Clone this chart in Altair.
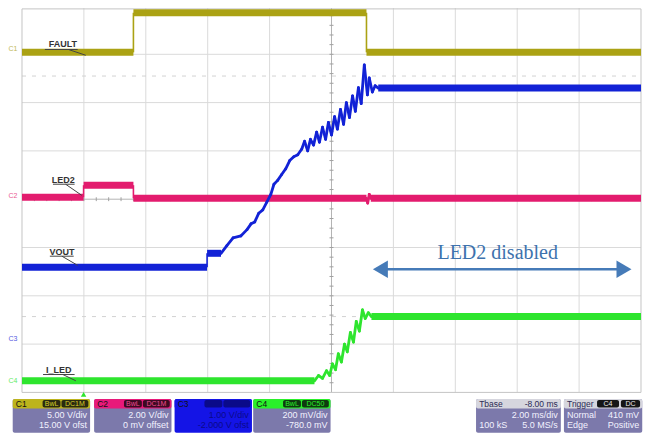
import altair as alt
import pandas as pd

# ---------------- data: time in ms across the screen (2 ms/div), level in screen divisions ----------
FAULT_T = [0.0, 3.60, 3.60, 11.13, 11.13, 20.0]
FAULT_V = [7.04, 7.04, 7.86, 7.86, 7.04, 7.04]

LED2_T = [0.0, 1.99, 1.99, 3.60, 3.60, 11.13, 11.17, 11.22, 11.27, 20.0]
LED2_V = [4.04, 4.04, 4.29, 4.29, 4.02, 4.02, 3.92, 4.10, 4.02, 4.02]

VOUT_T = [0.0, 5.98, 5.98, 6.43, 6.62, 6.82, 7.07, 7.27, 7.40, 7.52, 7.65, 7.78, 7.91,
          8.04, 8.14, 8.26, 8.39, 8.52, 8.65, 8.78, 8.91, 9.04, 9.13, 9.23, 9.32, 9.42,
          9.52, 9.61, 9.71, 9.81, 9.90, 10.00, 10.10, 10.19, 10.29, 10.39, 10.48, 10.58,
          10.68, 10.77, 10.87, 10.96, 11.06, 11.16, 11.22, 11.32, 11.41, 11.51, 20.0]
VOUT_V = [2.59, 2.59, 2.88, 2.88, 3.04, 3.20, 3.24, 3.37, 3.49, 3.53, 3.71, 3.78, 3.94,
          4.10, 4.31, 4.39, 4.51, 4.63, 4.80, 4.88, 4.92, 5.04, 5.20, 5.00, 5.24, 5.12,
          5.39, 5.18, 5.49, 5.24, 5.59, 5.33, 5.71, 5.45, 5.86, 5.55, 6.00, 5.69,
          6.14, 5.82, 6.31, 5.98, 6.78, 6.16, 6.51, 6.22, 6.35, 6.30, 6.30]

ILED_T = [0.0, 9.45, 9.58, 9.71, 9.84, 9.94, 10.03, 10.13, 10.22, 10.32, 10.42, 10.51,
          10.61, 10.71, 10.80, 10.90, 11.00, 11.09, 11.19, 11.29, 20.0]
ILED_V = [0.24, 0.24, 0.35, 0.29, 0.45, 0.35, 0.59, 0.47, 0.80, 0.63, 1.00, 0.84,
          1.24, 1.04, 1.47, 1.27, 1.71, 1.53, 1.65, 1.57, 1.57]

TRACE_NAMES = ["FAULT", "LED2", "VOUT", "I_LED"]
TRACE_T = [FAULT_T, LED2_T, VOUT_T, ILED_T]
TRACE_V = [FAULT_V, LED2_V, VOUT_V, ILED_V]
TRACE_COLORS = ["#aba214", "#e31c6e", "#1222d6", "#2ee52e"]

LABEL_T = [1.32, 1.33, 1.29, 1.19]
LABEL_V = [7.22, 4.39, 2.90, 0.47]
MARKERS = ["C1", "C2", "C3", "C4"]
MARKER_V = [7.12, 4.06, 1.10, 0.24]
REF_LEVELS = [6.55, 1.57]
GRID_T = [2, 4, 6, 8, 12, 14, 16, 18]
GRID_V = [1, 2, 3, 5, 6, 7]

C_PANELS = [
    dict(name="C1", badges=("BwL", "DC1M"), l2="5.00 V/div", l3="15.00 V ofst"),
    dict(name="C2", badges=("BwL", "DC1M"), l2="2.00 V/div", l3="0 mV offset"),
    dict(name="C3", badges=("BwL", "DC1M"), l2="1.00 V/div", l3="-2.000 V ofst"),
    dict(name="C4", badges=("BwL", "DC50"), l2="200 mV/div", l3="-780.0 mV"),
]
TBASE = dict(h=("Tbase", "-8.00 ms"), l2=("", "2.00 ms/div"), l3=("100 kS", "5.0 MS/s"))
TRIG = dict(h="Trigger", badges=("C4", "DC"), l2=("Normal", "410 mV"), l3=("Edge", "Positive"))

# ---------------- layout / style ---------------------------------------------------------------------
W, H = 636, 425
XS = alt.Scale(domain=[-0.4523, 20.097], nice=False, zero=False)
YS = alt.Scale(domain=[-0.8406, 7.9586], nice=False, zero=False)
FONT = "Liberation Sans"
WIDTHS = {"level": 7, "edge": 1.6, "ripple": 2.8}
PANEL_BG = "#7c79ab"
C_COLORS = {"C1": ("#bdb41c", "#2a2a10", "#d8cf2a"),
            "C2": ("#e8197a", "#3c0a22", "#f04a90"),
            "C3": ("#1414e6", "#0a0a8a", "#0a0a8a"),
            "C4": ("#2af02a", "#0f3a0f", "#2af02a")}
C_X0 = [-0.30, 2.33, 4.93, 7.47]
C_W = 2.50
TB_X = (14.67, 17.41)
TR_X = (17.51, 20.04)
P_TOP, P_HDR, P_BOT = -0.137, -0.333, -0.836
B_TOP, B_BOT = -0.157, -0.312
R1, R2, R3 = -0.236, -0.468, -0.685
PAD = 0.1


def X(f):
    return alt.X(f, type="quantitative", scale=XS, axis=None)


def Y(f):
    return alt.Y(f, type="quantitative", scale=YS, axis=None)


def seg_rules(df, **kw):
    return alt.Chart(pd.DataFrame(df)).mark_rule(**kw).encode(
        x=X("t"), x2="t2", y=Y("v"), y2="v2")


# ---------------- trace segments ---------------------------------------------------------------------
rows = []
for name, ts, vs, col in zip(TRACE_NAMES, TRACE_T, TRACE_V, TRACE_COLORS):
    for i in range(len(ts) - 1):
        if ts[i] == ts[i + 1]:
            kind = "edge"
        elif vs[i] == vs[i + 1]:
            kind = "level"
        else:
            kind = "ripple"
        rows.append(dict(trace=name, t=ts[i], t2=ts[i + 1], v=vs[i], v2=vs[i + 1],
                         color=col, kind=kind, w=WIDTHS[kind]))
seg = pd.DataFrame(rows)

flat = alt.Chart(seg[seg.kind != "ripple"]).mark_rule(strokeCap="butt").encode(
    x=X("t"), x2="t2", y=Y("v"), y2="v2",
    color=alt.Color("color:N", scale=None), strokeWidth=alt.StrokeWidth("w:Q", scale=None))
wavy = alt.Chart(seg[seg.kind == "ripple"]).mark_rule(strokeCap="round").encode(
    x=X("t"), x2="t2", y=Y("v"), y2="v2",
    color=alt.Color("color:N", scale=None), strokeWidth=alt.StrokeWidth("w:Q", scale=None))

# ---------------- graticule --------------------------------------------------------------------------
grid_x = seg_rules({"t": GRID_T, "t2": GRID_T, "v": [0] * len(GRID_T), "v2": [8] * len(GRID_T)},
                   color="#dadada", strokeWidth=1)
grid_y = seg_rules({"t": [0] * len(GRID_V), "t2": [20] * len(GRID_V), "v": GRID_V, "v2": GRID_V},
                   color="#dadada", strokeWidth=1)
border = seg_rules({"t": [0, 20, 0, 0], "t2": [20, 20, 20, 0], "v": [0, 0, 7.94, 0], "v2": [0, 7.94, 7.94, 7.94]},
                   color="#c4c4c4", strokeWidth=1)
center_l = seg_rules({"t": [10, 0], "t2": [10, 20], "v": [0, 4], "v2": [8, 4]},
                     color="#b4b4b4", strokeWidth=1)
vt = [k * 0.2 for k in range(1, 40)]
ht = [k * 0.4 for k in range(1, 50)]
ticks_v = seg_rules({"t": [9.935] * len(vt), "t2": [10.065] * len(vt), "v": vt, "v2": vt},
                    color="#a0a0a0", strokeWidth=1)
ticks_h = seg_rules({"t": ht, "t2": ht, "v": [3.96] * len(ht), "v2": [4.04] * len(ht)},
                    color="#a0a0a0", strokeWidth=1)
refs = seg_rules({"t": [0, 0], "t2": [20, 20], "v": REF_LEVELS, "v2": REF_LEVELS},
                 color="#d2d2d2", strokeWidth=1, strokeDash=[4, 6])

# ---------------- trace labels -----------------------------------------------------------------------
lab = pd.DataFrame({"t": LABEL_T, "v": LABEL_V, "label": TRACE_NAMES})
labels = alt.Chart(lab).mark_text(font=FONT, fontSize=9, color="#333333", fontWeight="bold").encode(
    x=X("t"), y=Y("v"), text="label:N")
underl = seg_rules({
    "t": [0.74, 1.50, 1.00, 1.41, 0.90, 1.29, 0.68, 1.32],
    "t2": [1.80, 2.06, 1.70, 1.93, 1.67, 1.80, 1.70, 1.74],
    "v": [7.10, 7.10, 4.31, 4.31, 2.82, 2.82, 0.37, 0.37],
    "v2": [7.10, 6.98, 4.31, 4.08, 2.82, 2.63, 0.37, 0.24]}, color="#444444", strokeWidth=1)
mk = pd.DataFrame({"t": [-0.29] * 4, "v": MARKER_V, "label": MARKERS, "color": TRACE_COLORS})
markers = alt.Chart(mk).mark_text(font=FONT, fontSize=7, opacity=0.75).encode(
    x=X("t"), y=Y("v"), text="label:N", color=alt.Color("color:N", scale=None))

# ---------------- annotation arrow -------------------------------------------------------------------
ARROW = "#467bb8"
shaft = seg_rules({"t": [11.45], "t2": [19.55], "v": [2.55], "v2": [2.55]}, color=ARROW, strokeWidth=2.5)
head_l = alt.Chart(pd.DataFrame({"t": [11.58], "v": [2.55]})).mark_point(
    shape="triangle-left", filled=True, color=ARROW, size=300, opacity=1).encode(x=X("t"), y=Y("v"))
head_r = alt.Chart(pd.DataFrame({"t": [19.45], "v": [2.55]})).mark_point(
    shape="triangle-right", filled=True, color=ARROW, size=300, opacity=1).encode(x=X("t"), y=Y("v"))
ann = alt.Chart(pd.DataFrame({"t": [15.37], "v": [2.755], "label": ["LED2 disabled"]})).mark_text(
    font="Liberation Serif", fontSize=20, color="#3d72ad", baseline="alphabetic").encode(
    x=X("t"), y=Y("v"), text="label:N")
trig_mark = alt.Chart(pd.DataFrame({"t": [1.99], "v": [-0.043]})).mark_point(
    shape="triangle-up", filled=True, color="#2ee52e", size=30, opacity=1).encode(x=X("t"), y=Y("v"))

# ---------------- info panels ------------------------------------------------------------------------
rects, texts_l, texts_r, texts_c = [], [], [], []
for x0, p in zip(C_X0, C_PANELS):
    hdr, bdg, btx = C_COLORS[p["name"]]
    x1 = x0 + C_W
    body = hdr if p["name"] == "C3" else PANEL_BG
    rects.append(dict(t=x0, t2=x1, v=P_BOT, v2=P_TOP, fill=body))
    rects.append(dict(t=x0, t2=x1, v=P_HDR, v2=P_TOP, fill=hdr))
    rects.append(dict(t=x0 + 0.965, t2=x0 + 1.543, v=B_BOT, v2=B_TOP, fill=bdg))
    rects.append(dict(t=x0 + 1.576, t2=x0 + 2.444, v=B_BOT, v2=B_TOP, fill=bdg))
    txt = "#0a0a8a" if p["name"] == "C3" else "#f2f2ff"
    texts_l.append(dict(t=x0 + PAD, v=R1, label=p["name"], color="#111111", size=8.5))
    texts_c.append(dict(t=x0 + 1.254, v=R1, label=p["badges"][0], color=btx, size=7))
    texts_c.append(dict(t=x0 + 2.010, v=R1, label=p["badges"][1], color=btx, size=7))
    texts_r.append(dict(t=x1 - PAD, v=R2, label=p["l2"], color=txt, size=9))
    texts_r.append(dict(t=x1 - PAD, v=R3, label=p["l3"], color=txt, size=9))

HDR_GRAY = "#d6d6de"
DARK_TXT = "#2b2b55"
x0, x1 = TB_X
rects.append(dict(t=x0, t2=x1, v=P_BOT, v2=P_TOP, fill=PANEL_BG))
rects.append(dict(t=x0, t2=x1, v=P_HDR, v2=P_TOP, fill=HDR_GRAY))
texts_l.append(dict(t=x0 + PAD, v=R1, label=TBASE["h"][0], color=DARK_TXT, size=8.5))
texts_r.append(dict(t=x1 - PAD, v=R1, label=TBASE["h"][1], color=DARK_TXT, size=8.5))
texts_r.append(dict(t=x1 - PAD, v=R2, label=TBASE["l2"][1], color="#f2f2ff", size=9))
texts_l.append(dict(t=x0 + PAD, v=R3, label=TBASE["l3"][0], color="#f2f2ff", size=9))
texts_r.append(dict(t=x1 - PAD, v=R3, label=TBASE["l3"][1], color="#f2f2ff", size=9))

x0, x1 = TR_X
rects.append(dict(t=x0, t2=x1, v=P_BOT, v2=P_TOP, fill=PANEL_BG))
rects.append(dict(t=x0, t2=x1, v=P_HDR, v2=P_TOP, fill=HDR_GRAY))
rects.append(dict(t=x0 + 1.07, t2=x0 + 1.78, v=B_BOT, v2=B_TOP, fill="#151515"))
rects.append(dict(t=x0 + 1.84, t2=x0 + 2.46, v=B_BOT, v2=B_TOP, fill="#151515"))
texts_l.append(dict(t=x0 + PAD, v=R1, label=TRIG["h"], color=DARK_TXT, size=8.5))
texts_c.append(dict(t=x0 + 1.425, v=R1, label=TRIG["badges"][0], color="#e8e8e8", size=7))
texts_c.append(dict(t=x0 + 2.15, v=R1, label=TRIG["badges"][1], color="#e8e8e8", size=7))
texts_l.append(dict(t=x0 + PAD, v=R2, label=TRIG["l2"][0], color="#f2f2ff", size=9))
texts_r.append(dict(t=x1 - PAD, v=R2, label=TRIG["l2"][1], color="#f2f2ff", size=9))
texts_l.append(dict(t=x0 + PAD, v=R3, label=TRIG["l3"][0], color="#f2f2ff", size=9))
texts_r.append(dict(t=x1 - PAD, v=R3, label=TRIG["l3"][1], color="#f2f2ff", size=9))

panel_rects = alt.Chart(pd.DataFrame(rects)).mark_rect(cornerRadius=2).encode(
    x=X("t"), x2="t2", y=Y("v"), y2="v2", fill=alt.Fill("fill:N", scale=None))


def text_layer(rows_, align):
    return alt.Chart(pd.DataFrame(rows_)).mark_text(font=FONT, align=align, baseline="middle").encode(
        x=X("t"), y=Y("v"), text="label:N", color=alt.Color("color:N", scale=None),
        size=alt.Size("size:Q", scale=None))


chart = alt.layer(
    grid_x, grid_y, refs, center_l, ticks_v, ticks_h, border,
    flat, wavy, underl, labels, markers,
    shaft, head_l, head_r, ann, trig_mark,
    panel_rects, text_layer(texts_l, "left"), text_layer(texts_r, "right"), text_layer(texts_c, "center"),
).properties(
    width=W, height=H, autosize=alt.AutoSizeParams(type="none"), padding=0, background="white"
).configure_view(stroke=None)

chart.save("out.html", embed_options={"renderer": "svg", "actions": False})
